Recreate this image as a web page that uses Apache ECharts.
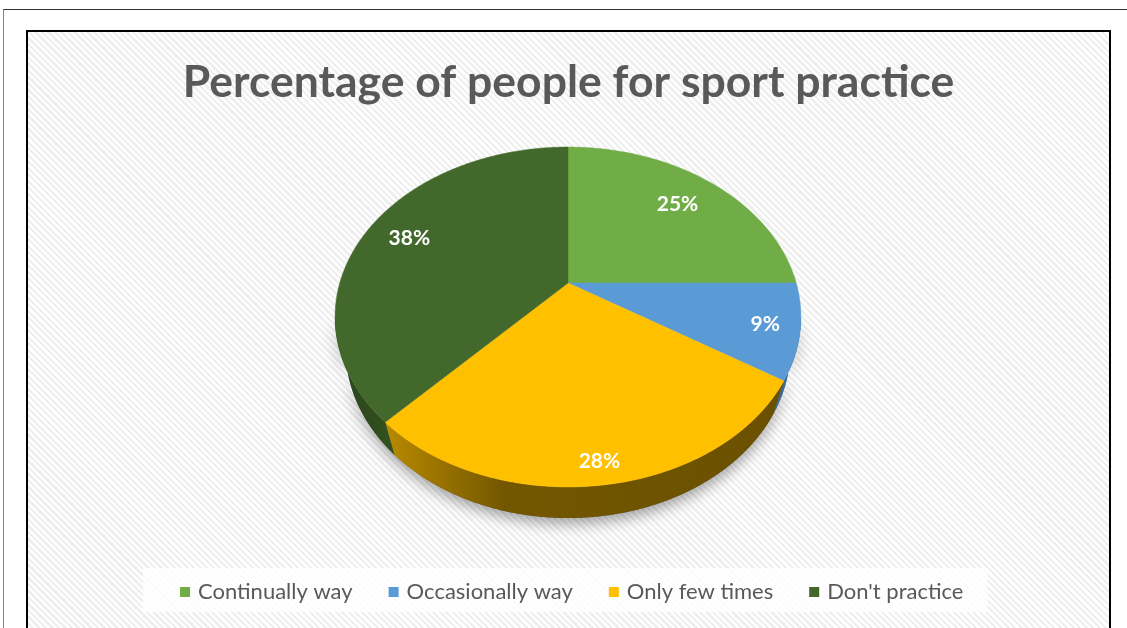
<!DOCTYPE html>
<html>
<head>
<meta charset="utf-8">
<script src="https://cdn.jsdelivr.net/npm/echarts@6/dist/echarts.min.js"></script>
<style>
  html, body { margin: 0; padding: 0; background: #fff; width: 1127px; height: 628px; overflow: hidden; }
  #page-rule { position: absolute; left: 3px; top: 9px; width: 1130px; height: 640px;
               border-top: 1px solid #333; border-left: 1px solid #888; }
  #frame { position: absolute; left: 26px; top: 30px; width: 1081px; height: 700px;
           border: 2px solid #000;
           background: repeating-linear-gradient(45deg, #ffffff 0px, #ffffff 2.3px, #efefef 2.3px, #efefef 4.6px); }
  #chart { position: absolute; left: 0; top: 0; width: 1081px; height: 596px; }
</style>
</head>
<body>
<div id="page-rule"></div>
<div id="frame"><div id="chart"></div></div>
<script>
// Survey answers: how often people practise sport (percent of respondents)
const categories = ['Continually way', 'Occasionally way', 'Only few times', "Don't practice"];
const shares = [25, 9, 28, 38];

// Slice colours (top face) and side-wall shading
const faceColors = ['#70AD47', '#5B9BD5', '#FFC000', '#43682B'];
const wallStops = [
  [[0, '#4E7A31'], [1, '#4E7A31']],
  [[0, '#3E6E9B'], [1, '#35608A']],
  [[0, '#B98A00'], [0.3, '#735700'], [1, '#6A5000']],
  [[0, '#2A431C'], [1, '#33511F']]
];

// Perspective pie geometry (pixels within the chart box)
const PIE_CX = 540, PIE_CY = 251;
const TILT_S = 0.715, TILT_C = 0.699;   // sin / cos of the viewing tilt
const EYE = 5;                          // camera distance in pie radii
const FOCAL = 797.6;
const WALL_H = 0.223;                   // thickness in pie radii

const total = shares.reduce((a, b) => a + b, 0);

function project(X, Y, Z) {
  const depth = EYE * TILT_C + Z * TILT_C - Y * TILT_S;
  return [PIE_CX + FOCAL * X / depth, PIE_CY - FOCAL * (Z * TILT_S + Y * TILT_C) / depth];
}
function rim(theta, Y, r) {
  r = r == null ? 1 : r;
  return project(r * Math.sin(theta), Y || 0, r * Math.cos(theta));
}
function sampleAngles(a0, a1) {
  const out = [];
  const n = Math.max(2, Math.ceil((a1 - a0) / (Math.PI / 360)));
  for (let k = 0; k <= n; k++) out.push(a0 + (a1 - a0) * k / n);
  return out;
}
// silhouette: the wall shows between the right- and left-most rim points
const WALL_FROM = Math.acos(-1 / EYE);
const WALL_TO = 2 * Math.PI - WALL_FROM;

function wallPoints(a0, a1) {
  const lo = Math.max(a0, WALL_FROM), hi = Math.min(a1, WALL_TO);
  if (hi <= lo) return null;
  const angs = sampleAngles(lo, hi);
  const top = angs.map(t => rim(t, 0));
  const bottom = angs.slice().reverse().map(t => rim(t, -WALL_H));
  return top.concat(bottom);
}

function startOf(i) {
  let s = 0;
  for (let k = 0; k < i; k++) s += shares[k];
  return s;
}

function renderSlice(i, api) {
  const value = api.value(0);
  const a0 = startOf(i) / total * 2 * Math.PI;
  const a1 = (startOf(i) + value) / total * 2 * Math.PI;
  const children = [];
  const wall = wallPoints(a0, a1);
  if (wall) {
    children.push({
      type: 'polygon',
      shape: { points: wall },
      style: { fill: { type: 'linear', x: 0, y: 0, x2: 1, y2: 0,
                       colorStops: wallStops[i].map(s => ({ offset: s[0], color: s[1] })) } },
      silent: true
    });
  }
  const face = [[PIE_CX, PIE_CY]].concat(sampleAngles(a0, a1).map(t => rim(t, 0)));
  children.push({
    type: 'polygon',
    shape: { points: face },
    style: { fill: faceColors[i], stroke: faceColors[i], lineWidth: 0.5 }
  });
  // value label, pushed a little further out on the near and side parts of the rim
  const mid = (a0 + a1) / 2;
  const pos = rim(mid, 0, 0.8 - 0.1 * Math.cos(mid) + 0.03 * Math.abs(Math.sin(mid)));
  children.push({
    type: 'text',
    x: pos[0], y: pos[1],
    style: {
      text: Math.round(value / total * 100) + '%',
      fill: '#ffffff', font: 'bold 21px Lato',
      textAlign: 'center', textVerticalAlign: 'middle'
    },
    z2: 10
  });
  return { type: 'group', children };
}

// soft drop shadow under the whole pie body
function renderShadow(params, api) {
  const pts = wallPoints(0, 2 * Math.PI * api.value(0) / total);
  return {
    type: 'polygon',
    shape: { points: pts },
    style: { fill: '#666', shadowBlur: 14, shadowOffsetY: 6, shadowColor: 'rgba(0,0,0,0.35)' },
    silent: true
  };
}

const chart = echarts.init(document.getElementById('chart'), null, { renderer: 'canvas' });

const series = [{
  type: 'custom', coordinateSystem: 'none', z: 1,
  data: [total], renderItem: renderShadow, silent: true
}].concat(categories.map((name, i) => ({
  type: 'custom',
  name: name,
  coordinateSystem: 'none',
  z: 2,
  itemStyle: { color: faceColors[i] },
  data: [shares[i]],
  renderItem: (params, api) => renderSlice(i, api)
})));

chart.setOption({
  backgroundColor: 'transparent',
  animation: false,
  title: {
    text: 'Percentage of people for sport practice',
    left: 'center',
    top: 23,
    textStyle: { color: '#595959', fontFamily: 'Lato', fontWeight: 'bold', fontSize: 44.5 }
  },
  legend: {
    data: categories,
    left: 115,
    top: 536,
    padding: [13, 24, 9, 37],
    backgroundColor: 'rgba(255,255,255,0.8)',
    icon: 'rect',
    itemWidth: 10,
    itemHeight: 10,
    itemGap: 36,
    textStyle: { color: '#595959', fontFamily: 'Lato', fontSize: 22, padding: [0, 0, 0, 3] }
  },
  series: series
});
</script>
</body>
</html>
